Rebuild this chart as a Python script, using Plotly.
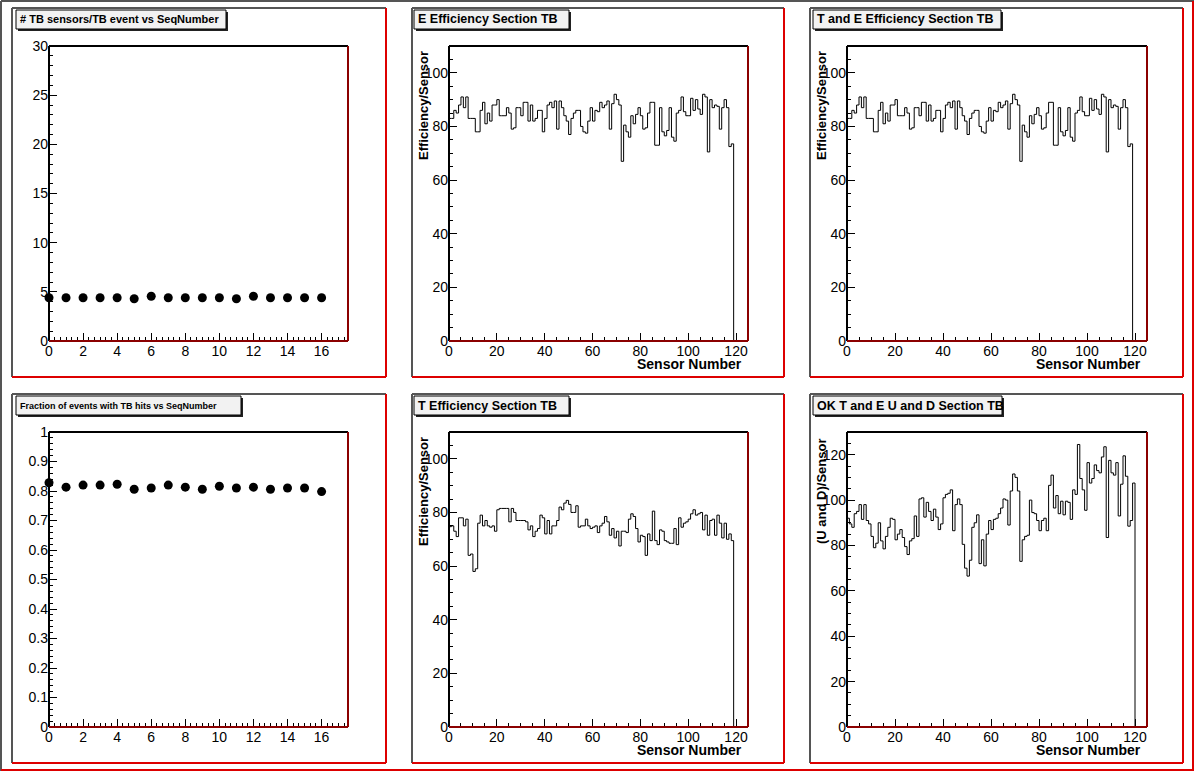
import plotly.graph_objects as go

W, H = 1196, 772

seq_number = list(range(17))
sensors_per_event = [4.4, 4.4, 4.4, 4.4, 4.4, 4.3, 4.55, 4.4, 4.4, 4.4,
                     4.4, 4.3, 4.55, 4.4, 4.4, 4.4, 4.4]
fraction_tb_hits = [0.828, 0.813, 0.820, 0.820, 0.823, 0.806, 0.810, 0.820, 0.813,
                    0.806, 0.816, 0.810, 0.813, 0.806, 0.810, 0.810, 0.798]

e_eff = [83, 83, 86, 85, 88, 91, 87, 91, 83, 83, 83, 78, 78, 86, 89, 81, 85, 82, 88, 88,
         90, 84, 84, 84, 87, 85, 79, 79.5, 87, 87, 84, 89, 89, 82, 88, 82, 83, 86, 86, 78,
         83, 88, 89, 87, 89.5, 79, 89.5, 87, 84, 82, 77, 83, 85, 86, 86, 80, 78, 77.5, 82, 87,
         82, 86, 85.5, 89, 87, 88, 89.5, 79, 88.5, 92, 90, 88, 67, 80.5, 78, 76, 84, 81, 84.5, 87,
         84, 79, 79.5, 85, 89, 89, 73, 73, 87, 78, 76.5, 78.5, 87, 76, 74.5, 85, 86, 91, 85.5, 84,
         84, 90.5, 86, 90, 86.5, 84.5, 92, 91, 70.5, 90, 87, 88, 87.5, 79, 87, 90, 87, 72.5, 73.5]

te_eff = list(e_eff)

t_eff = [74.7, 75, 73, 71, 78, 78, 75, 77.5, 64, 64.5, 58, 59, 76, 79, 75, 77, 75, 74.5, 75, 73,
         81, 81.5, 81.5, 81.5, 81.5, 76.5, 81.5, 80, 77, 77, 77, 77, 76.5, 73.5, 75, 71, 73, 74, 79, 78,
         72, 77, 72, 75, 75, 77, 82, 81, 83.5, 84.5, 83, 80, 80, 82.5, 74.5, 75, 75, 77.5, 75, 74,
         74.5, 75, 72.5, 75, 76, 78.5, 76.5, 71.5, 74, 70.5, 73, 67.5, 73, 73, 72.5, 77.5, 79.5, 78.5, 74, 69,
         71.5, 71, 64, 72, 69.5, 80.5, 69.5, 68, 73.5, 73, 69.5, 69, 68.5, 68.5, 74, 68, 78, 74.5, 76, 76.5,
         77.5, 79.5, 81, 79, 79.5, 80, 73.5, 79, 71.5, 77, 77.5, 71.5, 79, 76, 70.5, 76, 70, 72, 69.5]

ud_ok = [92, 89.5, 88, 94, 95, 98, 91.5, 98, 91, 89.5, 84, 79, 81, 90, 82, 78.5, 84, 88, 92, 91.5,
         82.5, 85, 87, 83.5, 79.5, 76, 82, 83, 93, 84, 100.5, 101, 92.5, 99, 95, 91, 96, 92.5, 87, 89.5,
         101, 102.5, 103, 104.5, 86.5, 98, 100.5, 98, 80.5, 70, 66.5, 73.5, 88, 90, 93.5, 72, 82.5, 71, 85, 91,
         87, 91.5, 92, 94, 96.5, 100.5, 100, 89, 104, 111.5, 110, 104, 73, 82.5, 84, 84.5, 100, 94.5, 94, 91,
         86.5, 91, 92, 86.5, 106.5, 111, 96.5, 102, 94, 99.5, 93.5, 99.5, 99, 91.5, 104.5, 102.5, 124.5, 109.5, 104.5, 95.5,
         116.5, 107.5, 109.5, 115.5, 113, 112, 119, 123.5, 83.5, 117.5, 112, 111, 116.5, 93, 107, 119.5, 110.5, 88.5, 91, 107.5]

FONT = "Liberation Sans"


def px(x):
    return x / W


def py(y):
    return 1 - y / H


fig = go.Figure()
shapes = []
annotations = []

# pads: (pad box, frame box, title box, title, title size)
pads = [
    ((12, 8, 386, 377), (49, 46, 348, 341), (16, 10, 226, 29), "# TB sensors/TB event vs SeqNumber", 11),
    ((412, 8, 784, 377), (449, 46, 748, 341), (414, 10, 569, 29), "E Efficiency Section TB", 12.5),
    ((810, 8, 1183, 377), (847, 46, 1147, 341), (813, 10, 1001, 29), "T and E Efficiency Section TB", 12.5),
    ((12, 394, 386, 763), (49, 432, 348, 727), (16, 396, 241, 415), "Fraction of events with TB hits vs SeqNumber", 9),
    ((412, 394, 784, 763), (449, 432, 748, 727), (414, 396, 569, 415), "T Efficiency Section TB", 12.5),
    ((810, 394, 1183, 763), (847, 432, 1147, 727), (813, 396, 1002, 415), "OK T and E U and D Section TB", 12.5),
]

# canvas border
shapes.append(dict(type="line", xref="paper", yref="paper", x0=px(1), x1=px(1), y0=py(1), y1=py(771),
                   line=dict(color="#555555", width=2)))
shapes.append(dict(type="line", xref="paper", yref="paper", x0=px(1), x1=px(1194), y0=py(1), y1=py(1),
                   line=dict(color="#555555", width=2)))
shapes.append(dict(type="line", xref="paper", yref="paper", x0=px(1193), x1=px(1193), y0=py(1), y1=py(770),
                   line=dict(color="#dd0000", width=2)))
shapes.append(dict(type="line", xref="paper", yref="paper", x0=px(1), x1=px(1194), y0=py(770), y1=py(770),
                   line=dict(color="#dd0000", width=2)))

for i, (pad, frame, tbox, title, tsize) in enumerate(pads):
    l, t, r, b = pad
    shapes += [
        dict(type="line", xref="paper", yref="paper", x0=px(l), x1=px(l), y0=py(t), y1=py(b),
             line=dict(color="#555555", width=2)),
        dict(type="line", xref="paper", yref="paper", x0=px(l), x1=px(r), y0=py(t), y1=py(t),
             line=dict(color="#555555", width=2)),
        dict(type="line", xref="paper", yref="paper", x0=px(r), x1=px(r), y0=py(t), y1=py(b),
             line=dict(color="#dd0000", width=2)),
        dict(type="line", xref="paper", yref="paper", x0=px(l), x1=px(r), y0=py(b), y1=py(b),
             line=dict(color="#dd0000", width=2)),
    ]
    # title box with shadow
    bl, bt, br, bb = tbox
    shapes.append(dict(type="rect", xref="paper", yref="paper", x0=px(bl + 2), x1=px(br + 2),
                       y0=py(bt + 2), y1=py(bb + 2), fillcolor="#222222", line=dict(width=0)))
    shapes.append(dict(type="rect", xref="paper", yref="paper", x0=px(bl), x1=px(br),
                       y0=py(bt), y1=py(bb), fillcolor="#f2f2f2", line=dict(color="black", width=1)))
    annotations.append(dict(text="<b>" + title + "</b>", xref="paper", yref="paper",
                            x=px(bl + 2), y=py((bt + bb) / 2), xanchor="left", yanchor="middle",
                            showarrow=False, font=dict(family=FONT, size=tsize, color="black")))

    fl, ft, fr, fb = frame
    ax = "" if i == 0 else str(i + 1)
    xref = "x" + ax
    yref = "y" + ax
    fig.layout["xaxis" + ax] = dict(domain=[px(fl), px(fr)], anchor=yref)
    fig.layout["yaxis" + ax] = dict(domain=[py(fb), py(ft)], anchor=xref)
    # frame: black left/top, dark red right/bottom
    shapes += [
        dict(type="line", xref=xref + " domain", yref=yref + " domain", x0=0, x1=0, y0=0, y1=1,
             line=dict(color="black", width=2)),
        dict(type="line", xref=xref + " domain", yref=yref + " domain", x0=0, x1=1, y0=1, y1=1,
             line=dict(color="black", width=2)),
        dict(type="line", xref=xref + " domain", yref=yref + " domain", x0=1, x1=1, y0=0, y1=1,
             line=dict(color="#8b0000", width=2)),
        dict(type="line", xref=xref + " domain", yref=yref + " domain", x0=0, x1=1, y0=0, y1=0,
             line=dict(color="#8b0000", width=2)),
    ]

# scatter pads
fig.add_trace(go.Scatter(x=seq_number, y=sensors_per_event, mode="markers",
                         marker=dict(color="black", size=9), xaxis="x", yaxis="y", cliponaxis=False))
fig.add_trace(go.Scatter(x=seq_number, y=fraction_tb_hits, mode="markers",
                         marker=dict(color="black", size=9), xaxis="x4", yaxis="y4", cliponaxis=False))

# histogram pads
for vals, ax in [(e_eff, "2"), (te_eff, "3"), (t_eff, "5"), (ud_ok, "6")]:
    edges = list(range(len(vals) + 1))
    fig.add_trace(go.Scatter(x=edges, y=vals + [0], mode="lines", line_shape="hv",
                             line=dict(color="black", width=1), xaxis="x" + ax, yaxis="y" + ax))

tick_common = dict(ticks="inside", tickcolor="black", ticklen=8, tickwidth=1, showgrid=False,
                   zeroline=False, showline=False, automargin=False,
                   tickfont=dict(family=FONT, size=14, color="black"))

fig.update_xaxes(**tick_common)
fig.update_yaxes(**tick_common)

for ax in ["", "4"]:
    fig.layout["xaxis" + ax].update(range=[0, 17.55], dtick=2, tick0=0,
                                    minor=dict(dtick=1 / 3, ticklen=4, ticks="inside", tickcolor="black"))
fig.layout.yaxis.update(range=[0, 30], dtick=5,
                        minor=dict(dtick=1, ticklen=4, ticks="inside", tickcolor="black"))
fig.layout.yaxis4.update(range=[0, 1], dtick=0.1, tickformat=".1~f",
                         minor=dict(dtick=0.02, ticklen=4, ticks="inside", tickcolor="black"))
for ax in ["2", "3", "5", "6"]:
    fig.layout["xaxis" + ax].update(range=[0, 125], dtick=20,
                                    minor=dict(dtick=5, ticklen=4, ticks="inside", tickcolor="black"))
for ax in ["2", "3", "5"]:
    fig.layout["yaxis" + ax].update(range=[0, 110], dtick=20,
                                    minor=dict(dtick=5, ticklen=4, ticks="inside", tickcolor="black"))
fig.layout.yaxis6.update(range=[0, 130], dtick=20,
                         minor=dict(dtick=5, ticklen=4, ticks="inside", tickcolor="black"))

# axis titles
for (pad, frame, tbox, title, tsize), ax in zip(pads, ["", "2", "3", "4", "5", "6"]):
    if ax in ["", "4"]:
        continue
    fl, ft, fr, fb = frame
    ytitle = "(U and D)/Sensor" if ax == "6" else "Efficiency/Sensor"
    annotations.append(dict(text="<b>" + ytitle + "</b>", xref="paper", yref="paper",
                            x=px(fl - 26), y=py(ft + 60), textangle=-90,
                            xanchor="center", yanchor="middle", showarrow=False,
                            font=dict(family=FONT, size=13, color="black")))
    annotations.append(dict(text="<b>Sensor Number</b>", xref="paper", yref="paper",
                            x=px(fr - 4), y=py(fb + 23), xanchor="right", yanchor="middle",
                            showarrow=False, font=dict(family=FONT, size=14, color="black")))

fig.update_layout(template="none", width=W, height=H,
                  margin=dict(l=0, r=0, t=0, b=0, pad=0, autoexpand=False),
                  paper_bgcolor="white", plot_bgcolor="white", showlegend=False,
                  shapes=shapes, annotations=annotations)

fig.write_html("out.html", config={"displayModeBar": False},
               post_script="document.body.style.margin='0px';"
                           "document.body.style.overflow='hidden';")
